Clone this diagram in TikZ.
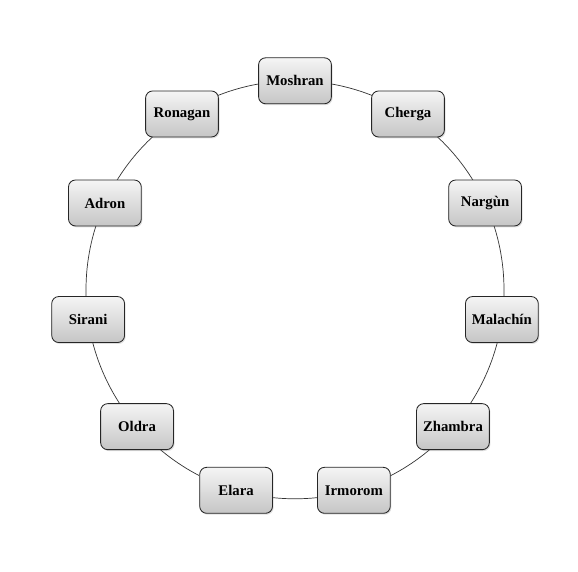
\documentclass[tikz,border=0pt]{standalone}
\usepackage{fontspec}
\setmainfont{Liberation Serif}
\usetikzlibrary{shadows,calc}

\begin{document}
\begin{tikzpicture}[
    realm/.style={rectangle, rounded corners=5pt, draw=black!85, line width=0.6pt,
        top color=gray!8, bottom color=gray!45,
        drop shadow={shadow xshift=0.8pt, shadow yshift=-1pt, opacity=0.25},
        minimum width=1.82cm, minimum height=1.15cm,
        font=\fontsize{10.5}{12}\selectfont\bfseries},
    ring/.style={draw=black!80, line width=0.5pt}]
    \useasboundingbox (0,0) rectangle (14.45,14.275);
    \coordinate (center) at (7.375,7.03);
    \draw[ring] (center) circle (5.225cm);
    \foreach \name/\label [count=\i from 0] in {moshran/Moshran, ronagan/Ronagan,
        adron/Adron, sirani/Sirani, oldra/Oldra, elara/Elara, irmorom/Irmorom,
        zhambra/Zhambra, malachin/Malachín, nargun/Nargùn, cherga/Cherga}
        \node[realm] (\name) at ($(center)+(90+\i*360/11:5.225)$) {\label};
\end{tikzpicture}
\end{document}
